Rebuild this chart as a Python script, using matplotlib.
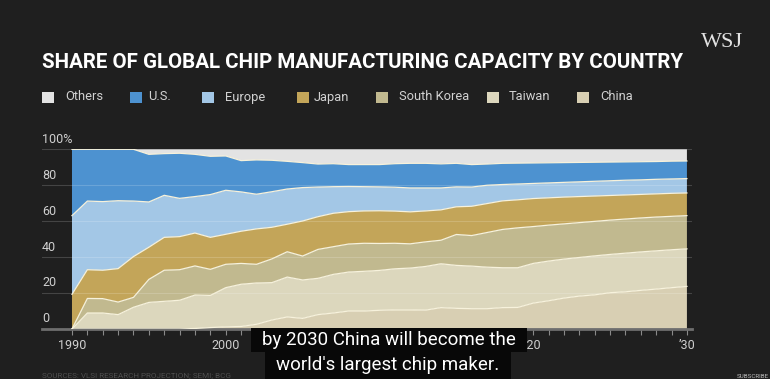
import numpy as np
import matplotlib.pyplot as plt
from matplotlib.patches import Rectangle

# Share of global chip manufacturing capacity (%)
years = list(range(1990, 2031))
china = [0, 0, 0, 0, 0, 0, 0, 0, 0.3, 0.8, 1.2, 1.4, 2.6, 5.0, 6.7, 5.9, 8.0, 8.9, 10.0, 10.0,
         10.4, 10.6, 10.6, 10.5, 11.9, 11.5, 11.3, 11.3, 11.9, 12.0,
         14.4, 15.7, 17.2, 18.3, 19.0, 20.2, 20.7, 21.5, 22.2, 23.0, 23.7]
taiwan = [0, 8.9, 8.9, 8.0, 12.1, 14.8, 15.4, 16.0, 18.6, 17.9, 21.8, 23.5, 23.0, 20.8, 22.2, 21.4,
          20.2, 21.5, 21.7, 22.1, 22.2, 22.9, 23.3, 24.3, 24.4, 23.9, 23.7, 23.1, 22.2, 22.1,
          22.1, 22.1, 21.7, 21.5, 21.7, 21.3, 21.5, 21.4, 21.3, 21.1, 20.9]
south_korea = [0, 8.1, 8.0, 7.0, 5.5, 12.8, 17.3, 17.0, 16.2, 14.5, 13.0, 11.6, 10.4, 13.2, 14.1,
               13.3, 16.1, 15.4, 15.6, 15.6, 15.0, 14.2, 13.5, 13.7, 13.1, 17.2, 17.0, 19.3, 21.3,
               22.2, 20.5, 20.0, 19.6, 19.4, 19.2, 19.1, 19.0, 18.9, 18.8, 18.6, 18.5]
japan = [19.3, 16.0, 15.8, 18.6, 22.7, 17.9, 18.3, 18.4, 18.3, 17.8, 16.7, 17.9, 19.7, 17.6, 15.3,
         19.5, 18.2, 18.6, 18.0, 18.0, 18.2, 17.9, 17.8, 17.2, 16.9, 15.4, 16.3, 16.1, 15.9, 15.6,
         15.6, 15.2, 14.9, 14.5, 14.1, 13.7, 13.4, 13.1, 12.9, 12.8, 12.6]
europe = [43.8, 38.2, 38.2, 37.8, 30.9, 25.2, 23.4, 21.3, 20.3, 23.8, 24.5, 21.9, 19.3, 19.8, 19.6,
          18.6, 16.5, 14.8, 14.0, 13.5, 13.3, 13.3, 13.3, 12.8, 12.2, 11.1, 10.7, 10.2, 9.1, 8.8,
          8.4, 8.3, 8.2, 8.2, 8.2, 8.2, 8.2, 8.1, 8.1, 8.0, 8.0]
us = [36.9, 28.8, 29.1, 28.6, 28.8, 26.5, 23.2, 25.1, 23.5, 21.3, 19.1, 17.4, 19.1, 17.5, 15.4,
      13.9, 12.8, 12.8, 12.2, 12.3, 12.4, 13.1, 13.7, 13.7, 13.4, 13.1, 12.5, 11.8, 11.8, 11.6,
      11.4, 11.2, 11.0, 10.8, 10.6, 10.4, 10.2, 10.1, 9.9, 9.9, 9.8]
others = [0, 0, 0, 0, 0, 2.8, 2.4, 2.2, 2.8, 3.9, 3.7, 6.3, 5.9, 6.1, 6.7, 7.4, 8.2, 8.0, 8.5, 8.5,
          8.5, 8.0, 7.8, 7.8, 8.1, 7.8, 8.5, 8.2, 7.8, 7.7, 7.6, 7.5, 7.4, 7.3, 7.2, 7.1, 7.0,
          6.9, 6.8, 6.6, 6.5]

legend_names = ['Others', 'U.S.', 'Europe', 'Japan', 'South Korea', 'Taiwan', 'China']
xtick_pos = [1990, 2000, 2010, 2020, 2030]
xtick_labels = ['1990', '2000', '\u201910', '\u201920', '\u201930']
ytick_pos = [0, 20, 40, 60, 80, 100]
ytick_labels = ['0', '20', '40', '60', '80', '100%']

# colours, bottom layer first
layer_colors = ['#d8cfb3', '#dcd7bd', '#c1b98f', '#c3a559', '#a3c7e6', '#4d92d0', '#e3e3e3']
bg = '#1f1f1f'
FONT = ['Roboto', 'DejaVu Sans']
W, H = 770, 379


def fx(x):
    return x / W


def fy(y):
    return 1 - y / H


fig = plt.figure(figsize=(7.7, 3.79), dpi=100, facecolor=bg)
ax = fig.add_axes([fx(42), fy(329), 650 / W, 179.7 / H])
ax.set_facecolor(bg)

layers = [china, taiwan, south_korea, japan, europe, us, others]
ax.stackplot(years, *layers, colors=layer_colors, lw=0, zorder=1)

# thin light lines on top of each layer
tops = np.cumsum(np.array(layers), axis=0)
for top in tops[:-1]:
    ax.plot(years, top, color='#f7f2dc', lw=0.9, zorder=3)

# faint gridlines running over the areas
for g in ytick_pos[1:]:
    ax.axhline(g, color='white', alpha=0.17, lw=0.8, zorder=2)

ax.set_xlim(1988.05, 2030.33)
ax.set_ylim(0, 100)
for s in ['left', 'top', 'right']:
    ax.spines[s].set_visible(False)
ax.spines['bottom'].set_color('#6e6e6e')
ax.spines['bottom'].set_linewidth(2)
ax.set_yticks([])
ax.set_xticks(years, minor=True)
ax.set_xticks(xtick_pos, xtick_labels)
ax.tick_params(axis='x', which='both', direction='out', length=4, width=0.8,
               color='#8a8a8a', labelcolor='#d0d0d0', labelsize=9, pad=3)
for lbl in ax.get_xticklabels():
    lbl.set_family(FONT)

for pos, lab in zip(ytick_pos, ytick_labels):
    ax.text(1988.05, pos + 2, lab, ha='left', va='bottom', color='#d0d0d0',
            fontsize=9, family=FONT)

# title and logo
fig.text(fx(42), fy(68.3), 'SHARE OF GLOBAL CHIP MANUFACTURING CAPACITY BY COUNTRY',
         color='white', fontsize=14.8, weight='bold', family=FONT, va='baseline')
fig.text(fx(701), fy(46.7), 'WSJ', color='#e2e2e2', fontsize=16,
         family=['Liberation Serif', 'DejaVu Serif'], va='baseline')

# legend row
sq_x = [42, 130, 202, 297, 376, 487, 577]
lbl_x = [65, 148, 225, 314, 399, 509, 600]
leg_colors = layer_colors[::-1]
for name, c, sx, lx in zip(legend_names, leg_colors, sq_x, lbl_x):
    fig.add_artist(Rectangle((fx(sx), fy(102.5)), 12 / W, 11 / H,
                             transform=fig.transFigure, facecolor=c, edgecolor='none'))
    fig.text(fx(lx), fy(97), name, color='#d2d2d2', fontsize=9.3, family=FONT, va='center')

# source line
fig.text(fx(42), fy(377.5), 'SOURCES: VLSI RESEARCH PROJECTION; SEMI; BCG',
         color='#4e4e4e', fontsize=5.9, family=FONT, va='baseline')
fig.text(fx(737), fy(378.5), 'SUBSCRIBE', color='#bbbbbb', fontsize=4.5,
         family=FONT, va='baseline')

# video caption overlay (it hides the '10 label, as in the source frame)
fig.add_artist(Rectangle((fx(251), fy(352)), 276 / W, 24 / H, transform=fig.transFigure,
                         facecolor='#080808', edgecolor='none', zorder=10))
fig.add_artist(Rectangle((fx(265), fy(380)), 246 / W, 28 / H, transform=fig.transFigure,
                         facecolor='#080808', edgecolor='none', zorder=10))
fig.text(fx(389), fy(340), 'by 2030 China will become the', color='white', fontsize=13.5,
         family=['Roboto', 'DejaVu Sans'], ha='center', va='center', zorder=11)
fig.text(fx(388), fy(365), "world's largest chip maker.", color='white', fontsize=13.5,
         family=['Roboto', 'DejaVu Sans'], ha='center', va='center', zorder=11)

fig.savefig('out.png', dpi=100, facecolor=bg)
